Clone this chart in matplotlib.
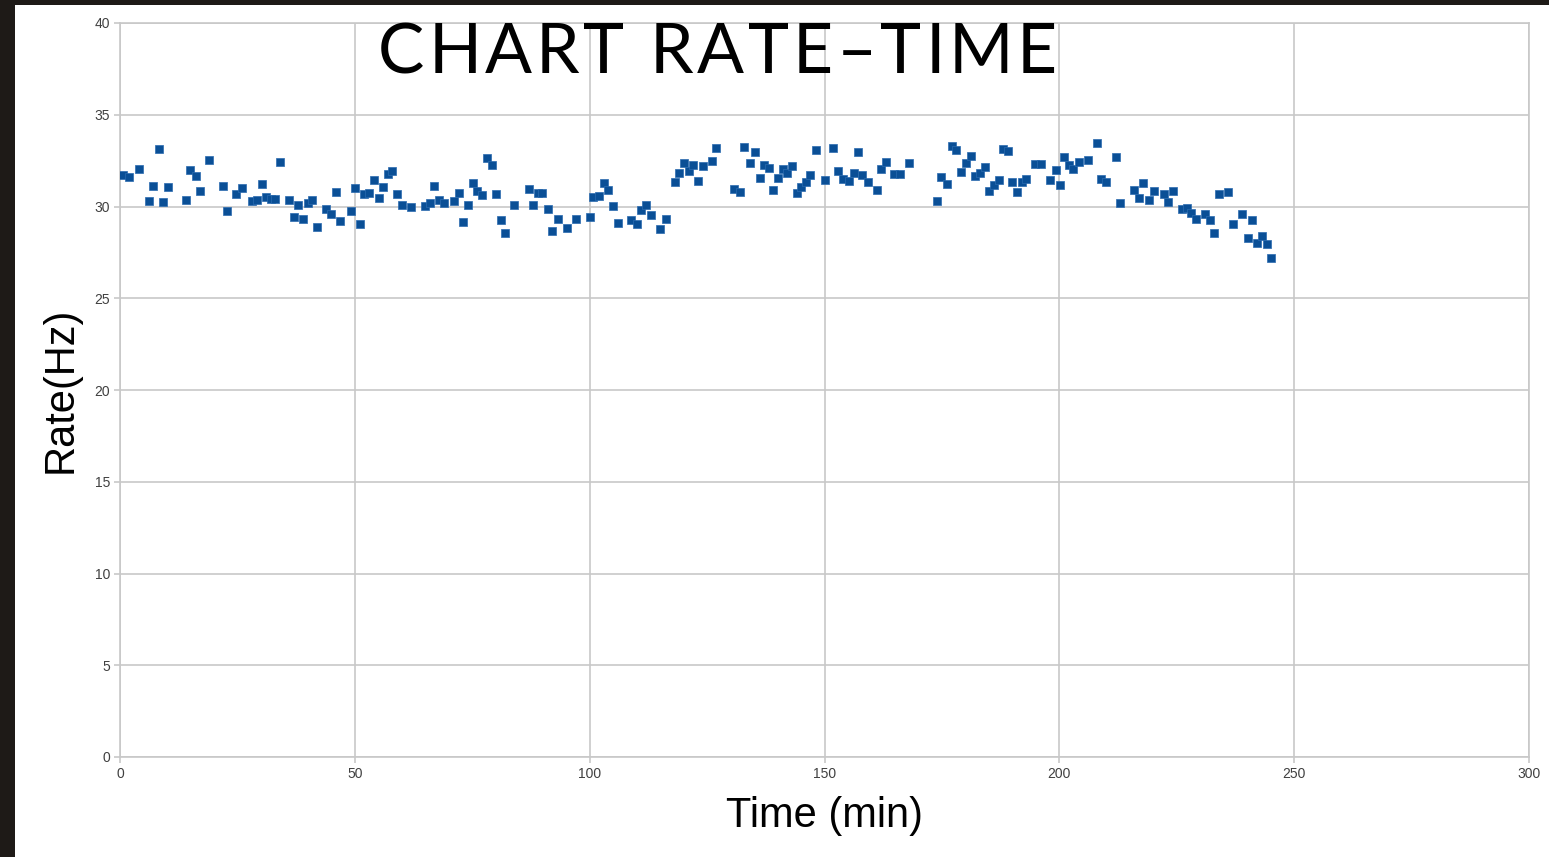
import matplotlib.pyplot as plt
from matplotlib.patches import Rectangle

# readings taken off the reference chart
time_min = [0.7, 2.0, 4.0, 6.2, 7.1, 8.2, 9.1, 10.2, 14.1, 15.0, 16.1, 17.0, 18.9,
            22.0, 22.8, 24.8, 26.0, 28.0, 29.2, 30.2, 31.0, 32.1, 33.1, 34.1, 36.0,
            37.0, 38.0, 39.0, 40.0, 40.9, 42.0, 43.9, 44.9, 45.9, 46.8, 49.2, 50.1,
            51.1, 52.0, 53.1, 54.1, 55.1, 56.1, 57.0, 58.0, 59.0, 60.0, 62.0, 64.9,
            65.9, 66.9, 67.9, 68.9, 71.1, 72.1, 73.1, 74.1, 75.1, 76.1, 77.1, 78.1,
            79.1, 80.1, 81.1, 82.0, 83.9, 87.0, 87.9, 88.9, 89.9, 91.1, 92.0, 93.2,
            95.2, 97.1, 100.0, 100.8, 102.0, 103.0, 104.0, 105.0, 106.0, 108.9, 110.0,
            110.9, 111.9, 113.1, 115.0, 116.2, 118.1, 119.1, 120.1, 121.1, 122.1,
            123.0, 124.1, 126.0, 127.0, 130.8, 132.0, 132.9, 134.2, 135.1, 136.2,
            137.1, 138.2, 139.1, 140.1, 141.1, 142.1, 143.1, 144.1, 145.1, 146.0,
            147.0, 148.1, 150.1, 151.9, 152.9, 153.9, 155.2, 156.2, 157.2, 158.0,
            159.2, 161.1, 162.0, 163.1, 164.9, 166.0, 168.0, 173.9, 174.9, 176.1,
            177.1, 178.1, 179.1, 180.1, 181.1, 182.1, 183.1, 184.1, 185.0, 186.1,
            187.1, 187.9, 189.1, 190.0, 191.0, 192.0, 193.0, 194.8, 196.0, 198.1,
            199.2, 200.1, 201.1, 202.1, 203.0, 204.2, 206.1, 208.1, 208.9, 210.0,
            212.1, 213.0, 215.9, 216.9, 217.9, 219.1, 220.2, 222.2, 223.1, 224.1,
            226.1, 227.1, 228.1, 229.1, 231.0, 232.1, 233.0, 234.0, 236.0, 237.0,
            238.9, 240.2, 241.1, 242.1, 243.1, 244.2, 245.1]
rate_hz = [31.72, 31.62, 32.04, 30.30, 31.12, 33.13, 30.23, 31.05, 30.35, 31.99, 31.68,
           30.86, 32.55, 31.12, 29.77, 30.66, 30.99, 30.30, 30.35, 31.24, 30.53, 30.43,
           30.43, 32.44, 30.35, 29.44, 30.08, 29.34, 30.17, 30.35, 28.90, 29.84, 29.58,
           30.79, 29.21, 29.77, 30.99, 29.02, 30.68, 30.75, 31.43, 30.48, 31.05, 31.75,
           31.93, 30.68, 30.08, 29.96, 30.03, 30.17, 31.12, 30.35, 30.17, 30.30, 30.75,
           29.16, 30.08, 31.26, 30.83, 30.61, 32.63, 32.24, 30.68, 29.26, 28.57, 30.08,
           30.97, 30.08, 30.74, 30.74, 29.84, 28.66, 29.34, 28.85, 29.34, 29.44, 30.53,
           30.59, 31.26, 30.90, 30.03, 29.08, 29.26, 29.02, 29.81, 30.08, 29.54, 28.77,
           29.34, 31.35, 31.81, 32.37, 31.93, 32.26, 31.37, 32.21, 32.46, 33.21, 30.93,
           30.79, 33.26, 32.37, 32.99, 31.55, 32.26, 32.11, 30.92, 31.55, 32.06, 31.84,
           32.21, 30.72, 31.05, 31.34, 31.70, 33.08, 31.43, 33.19, 31.93, 31.50, 31.41,
           31.83, 32.95, 31.70, 31.35, 30.92, 32.04, 32.44, 31.77, 31.77, 32.39, 30.30,
           31.61, 31.23, 33.28, 33.06, 31.86, 32.37, 32.77, 31.66, 31.84, 32.13, 30.84,
           31.17, 31.44, 33.13, 33.01, 31.35, 30.79, 31.32, 31.48, 32.32, 32.32, 31.43,
           31.99, 31.17, 32.70, 32.26, 32.04, 32.44, 32.52, 33.44, 31.50, 31.35, 32.68,
           30.17, 30.92, 30.48, 31.26, 30.35, 30.86, 30.66, 30.23, 30.86, 29.84, 29.93,
           29.66, 29.34, 29.61, 29.26, 28.57, 30.66, 30.79, 29.02, 29.59, 28.27, 29.28,
           28.01, 28.41, 27.96, 27.21]

x_ticks = [0, 50, 100, 150, 200, 250, 300]
y_ticks = [0, 5, 10, 15, 20, 25, 30, 35, 40]
title = 'CHART RATE\u2013TIME'

W, H = 1549, 857
fig = plt.figure(figsize=(W / 100, H / 100), dpi=100)
fig.patch.set_facecolor('#1e1a17')
fig.patches.append(Rectangle((15 / W, 0), 1 - 15 / W, 1 - 5 / H,
                             transform=fig.transFigure, facecolor='white',
                             edgecolor='none', zorder=-5))

ax = fig.add_axes([120 / W, 100 / H, 1409 / W, 734 / H])
ax.set_facecolor('white')
ax.set_zorder(1)

grid_col = '#c8c8c8'
ax.scatter(time_min, rate_hz, marker='s', s=30, color='#0a4f96',
           edgecolors='#2a6bb0', linewidths=0.5, zorder=3)

ax.set_xlim(0, 300)
ax.set_ylim(0, 40)
ax.set_xticks(x_ticks)
ax.set_yticks(y_ticks)
ax.grid(True, color=grid_col, linewidth=1.2)
ax.set_axisbelow(True)
for sp in ax.spines.values():
    sp.set_color(grid_col)
    sp.set_linewidth(1.2)
ax.tick_params(direction='out', length=4, width=1.2, color=grid_col,
               labelsize=10, labelcolor='#404040', pad=3)
for lbl in ax.get_xticklabels() + ax.get_yticklabels():
    lbl.set_family('Liberation Sans')

ax.set_xlabel('Time (min)', family='Liberation Sans', fontsize=30,
              color='black', labelpad=11)
ax.set_ylabel('Rate(Hz)', family='Liberation Sans', fontsize=30,
              color='black', labelpad=10)

# title with wide letter spacing, placed one glyph at a time
renderer = fig.canvas.get_renderer()
tkw = dict(family='Lato', fontsize=50, weight='normal', color='black')


def text_w(s):
    t = fig.text(0, 0, s, **tkw)
    w = t.get_window_extent(renderer).width
    t.remove()
    return w


x0, x1, base = 378, 1057, H - 73
track = (x1 - x0 - text_w(title)) / (len(title) - 1)
for i, ch in enumerate(title):
    if ch == ' ':
        continue
    left = text_w(title[:i + 1]) - text_w(ch)
    fig.text((x0 + left + i * track) / W, base / H, ch, ha='left',
             va='baseline', zorder=5, **tkw)

fig.savefig('out.png', dpi=100, facecolor=fig.get_facecolor())
